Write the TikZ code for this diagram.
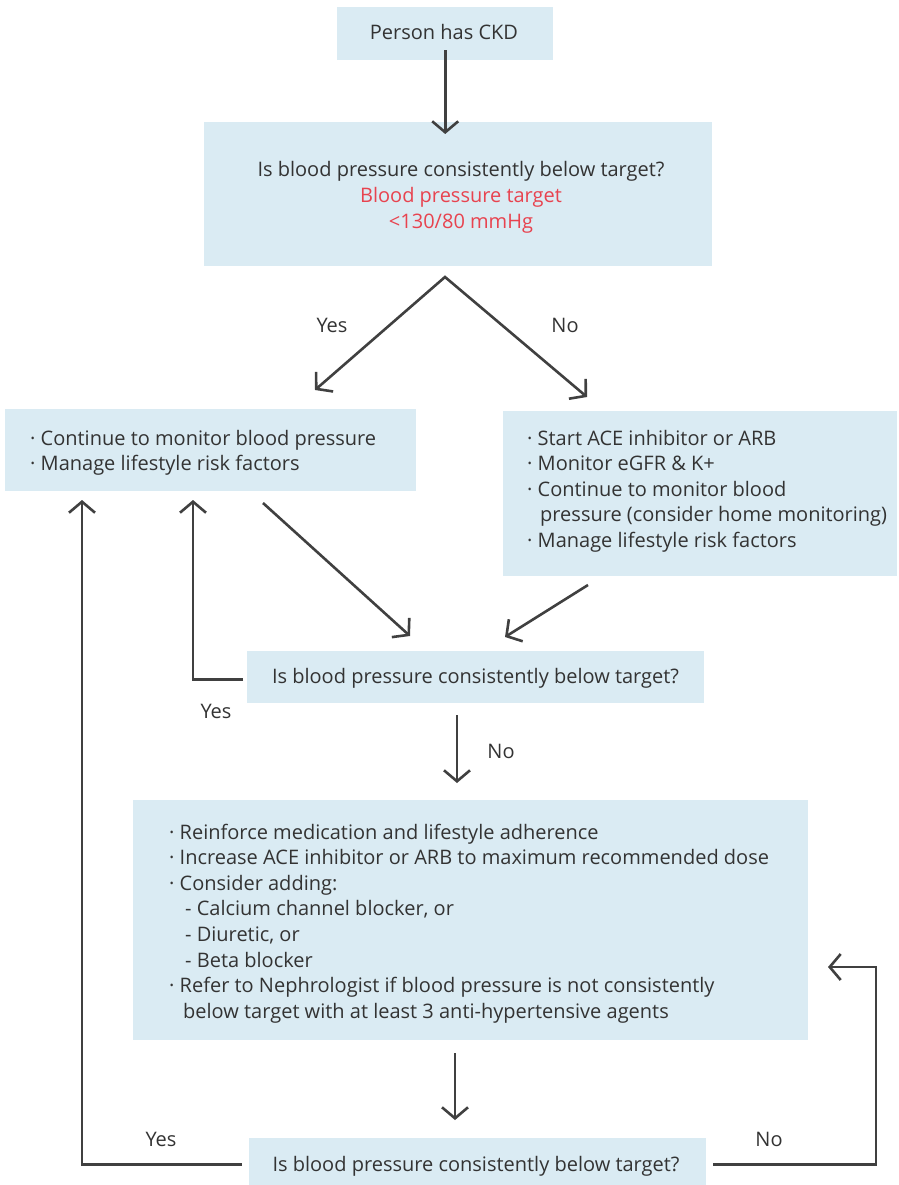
\documentclass[tikz,border=0pt]{standalone}
\usepackage{fontspec}
\setmainfont{Open Sans}
\usetikzlibrary{arrows.meta}
\definecolor{boxfill}{HTML}{DAEBF3}
\definecolor{ink}{HTML}{333333}
\definecolor{linegray}{HTML}{404040}
\definecolor{alert}{HTML}{E8434F}
\begin{document}
\begin{tikzpicture}[x=1pt,y=-1pt,
  panel/.style={fill=boxfill, draw=none, inner sep=0pt, anchor=north west},
  txt/.style={text=ink, inner sep=0pt, font=\fontsize{20}{25.6}\selectfont},
  lines/.style={txt, anchor=base west},
  flow/.style={draw=linegray, line width=2.6pt, line join=miter,
    -{Straight Barb[length=11pt,width=26pt,line width=2.6pt]}},
  lbl/.style={txt, anchor=base}]
\useasboundingbox (0,0) rectangle (898,1185);

% boxes
\node[panel, minimum width=216pt, minimum height=53pt]  (ckd)       at (337,7)    {};
\node[panel, minimum width=508pt, minimum height=144pt] (q1)        at (204,122)  {};
\node[panel, minimum width=411pt, minimum height=82pt]  (keep)      at (5,409)    {};
\node[panel, minimum width=394pt, minimum height=165pt] (start)     at (503,411)  {};
\node[panel, minimum width=457pt, minimum height=52pt]  (q2)        at (247,651)  {};
\node[panel, minimum width=675pt, minimum height=240pt] (intensify) at (133,800)  {};
\node[panel, minimum width=457pt, minimum height=47pt]  (q3)        at (249,1138) {};

% box texts
\node[lbl] (ckdtxt) at (444,40) {Person has CKD};
\node[lbl] (q1txt) at (461,177) {Is blood pressure consistently below target?};
\node[lbl, text=alert] (q1tgt) at (461,203) {Blood pressure target};
\node[lbl, text=alert] (q1val) at (461,228) {<130/80 mmHg};
\node[lines] (keeptxt) at (30,445) {\begin{tabular}[t]{@{}l@{}}
· Continue to monitor blood pressure\\
· Manage lifestyle risk factors\end{tabular}};
\node[lines] (starttxt) at (527,445) {\begin{tabular}[t]{@{}l@{}}
· Start ACE inhibitor or ARB\\
· Monitor eGFR \& K+\\
· Continue to monitor blood\\
\hspace{13pt}pressure (consider home monitoring)\\
· Manage lifestyle risk factors\end{tabular}};
\node[lbl] (q2txt) at (475.5,683) {Is blood pressure consistently below target?};
\node[lines] (inttxt) at (169,839) {\begin{tabular}[t]{@{}l@{}}
· Reinforce medication and lifestyle adherence\\
· Increase ACE inhibitor or ARB to maximum recommended dose\\
· Consider adding:\\
\hspace{16pt}- Calcium channel blocker, or\\
\hspace{16pt}- Diuretic, or\\
\hspace{16pt}- Beta blocker\\
· Refer to Nephrologist if blood pressure is not consistently\\
\hspace{14pt}below target with at least 3 anti-hypertensive agents\end{tabular}};
\node[lbl] (q3txt) at (476,1171) {Is blood pressure consistently below target?};

% connector end points
\coordinate (fork)     at (445,277);
\coordinate (yesTip)   at (315,390);
\coordinate (noTip)    at (587,397);
\coordinate (keepOut)  at (263,503);
\coordinate (keepIn)   at (410,636);
\coordinate (startOut) at (588,585);
\coordinate (startIn)  at (505,637);
\coordinate (loopA)    at (193,500);
\coordinate (q2Out)    at (457,715);
\coordinate (intIn)    at (457,783);
\coordinate (intOut)   at (455,1053);
\coordinate (q3In)     at (455,1120);
\coordinate (loopB)    at (82,500);
\coordinate (loopC)    at (876,967);
\coordinate (intRight) at (828,967);

% connectors
\draw[flow] ([yshift=10pt]ckd.south) -- ([yshift=-12pt]ckd.south |- q1.north);
\draw[flow, {Straight Barb[length=11pt,width=26pt,line width=2.6pt]}-{Straight Barb[length=11pt,width=26pt,line width=2.6pt]}]
  (yesTip) -- (fork) -- (noTip);
\draw[flow] (keepOut) -- (keepIn);
\draw[flow] (startOut) -- (startIn);
\draw[flow] ([xshift=-4pt,yshift=-2pt]q2.west) -| (loopA);
\draw[flow] (q2Out) -- (intIn);
\draw[flow] (intOut) -- (q3In);
\draw[flow] ([xshift=-7pt,yshift=-2.5pt]q3.west) -| (loopB);
\draw[flow] ([xshift=7pt,yshift=-2.5pt]q3.east) -| (loopC) -- (intRight);

% branch labels
\node[lbl] (yes1) at (332,332) {Yes};
\node[lbl] (no1)  at (565,332) {No};
\node[lbl] (yes2) at (216,718) {Yes};
\node[lbl] (no2)  at (501,758) {No};
\node[lbl] (yes3) at (161,1146) {Yes};
\node[lbl] (no3)  at (769,1146) {No};
\end{tikzpicture}
\end{document}
